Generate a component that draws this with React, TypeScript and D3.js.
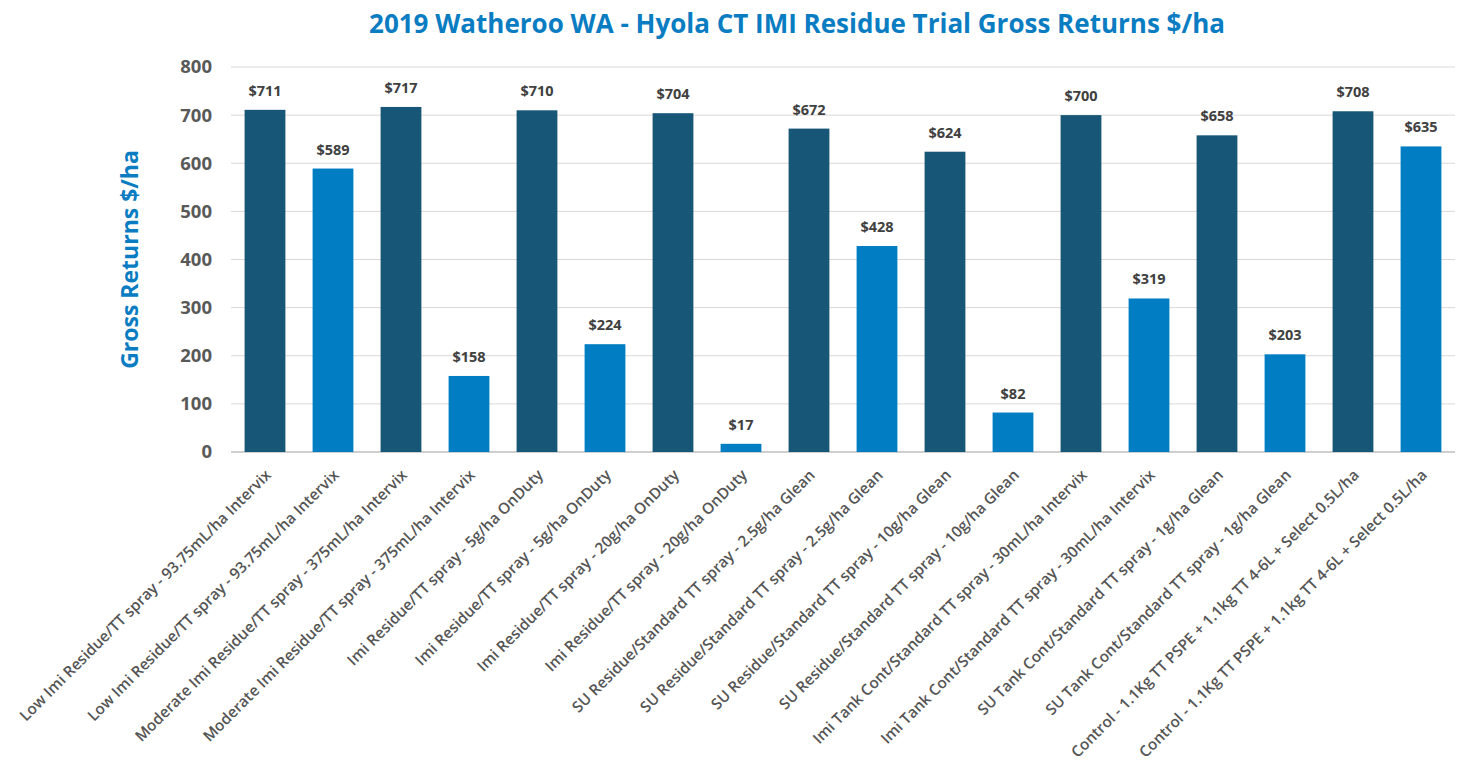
import React from 'react';
import * as d3 from 'd3';

const categories = [
  'Low Imi Residue/TT spray - 93.75mL/ha Intervix',
  'Low Imi Residue/TT spray - 93.75mL/ha Intervix',
  'Moderate Imi Residue/TT spray - 375mL/ha Intervix',
  'Moderate Imi Residue/TT spray - 375mL/ha Intervix',
  'Imi Residue/TT spray - 5g/ha OnDuty',
  'Imi Residue/TT spray - 5g/ha OnDuty',
  'Imi Residue/TT spray - 20g/ha OnDuty',
  'Imi Residue/TT spray - 20g/ha OnDuty',
  'SU Residue/Standard TT spray - 2.5g/ha Glean',
  'SU Residue/Standard TT spray - 2.5g/ha Glean',
  'SU Residue/Standard TT spray - 10g/ha Glean',
  'SU Residue/Standard TT spray - 10g/ha Glean',
  'Imi Tank Cont/Standard TT spray - 30mL/ha Intervix',
  'Imi Tank Cont/Standard TT spray - 30mL/ha Intervix',
  'SU Tank Cont/Standard TT spray - 1g/ha Glean',
  'SU Tank Cont/Standard TT spray - 1g/ha Glean',
  'Control - 1.1Kg TT PSPE + 1.1kg TT 4-6L + Select 0.5L/ha',
  'Control - 1.1Kg TT PSPE + 1.1kg TT 4-6L + Select 0.5L/ha',
];

const returns = [711, 589, 717, 158, 710, 224, 704, 17, 672, 428, 624, 82, 700, 319, 658, 203, 708, 635];

const yTicks = [0, 100, 200, 300, 400, 500, 600, 700, 800];

const DARK = '#175676';
const LIGHT = '#007DC3';

export default function App() {
  const width = 1460;
  const height = 775;
  const margin = { top: 67, right: 5, bottom: 323, left: 231 };

  const ids = categories.map((_, i) => String(i));

  const x = d3
    .scaleBand()
    .domain(ids)
    .range([margin.left, width - margin.right])
    .paddingInner(0.4)
    .paddingOuter(0.2);

  const y = d3
    .scaleLinear()
    .domain([0, 800])
    .range([height - margin.bottom, margin.top]);

  const font = '"Open Sans", Lato, sans-serif';

  return (
    <svg
      width={width}
      height={height}
      style={{ position: 'absolute', left: 0, top: 0, background: '#fff' }}
      fontFamily={font}
    >
      <text
        x={797}
        y={33}
        textAnchor="middle"
        fontSize={26}
        fontWeight="bold"
        fill="#0A7DC2"
      >
        2019 Watheroo WA - Hyola CT IMI Residue Trial Gross Returns $/ha
      </text>

      {/* grid + y ticks */}
      {yTicks.map((t) => (
        <g key={t}>
          <line
            x1={margin.left}
            x2={width - margin.right}
            y1={y(t)}
            y2={y(t)}
            stroke={t === 0 ? '#bfbfbf' : '#d9d9d9'}
            strokeWidth={t === 0 ? 1.5 : 1}
          />
          <text
            x={212}
            y={y(t)}
            dy="0.35em"
            textAnchor="end"
            fontSize={18.5}
            fontWeight="bold"
            fill="#595959"
          >
            {t}
          </text>
        </g>
      ))}

      <text
        transform={`translate(138,${y(400)}) rotate(-90)`}
        textAnchor="middle"
        fontSize={23}
        fontWeight="bold"
        fill="#0A7DC2"
      >
        Gross Returns $/ha
      </text>

      {/* bars */}
      {returns.map((v, i) => {
        const bx = x(String(i)) || 0;
        return (
          <g key={i}>
            <rect
              x={bx}
              y={y(v)}
              width={x.bandwidth()}
              height={y(0) - y(v)}
              fill={i % 2 === 0 ? DARK : LIGHT}
            />
            <text
              x={bx + x.bandwidth() / 2}
              y={y(v) - 14}
              textAnchor="middle"
              fontSize={14.5}
              fontWeight="bold"
              fill="#404040"
            >
              ${v}
            </text>
          </g>
        );
      })}

      {/* x labels */}
      {categories.map((c, i) => {
        const cx = (x(String(i)) || 0) + x.bandwidth() / 2 + 7;
        return (
          <text
            key={i}
            transform={`translate(${cx},${y(0) + 24}) rotate(-45)`}
            textAnchor="end"
            fontSize={15.3}
            fontWeight={600}
            fill="#555555"
          >
            {c}
          </text>
        );
      })}
    </svg>
  );
}
